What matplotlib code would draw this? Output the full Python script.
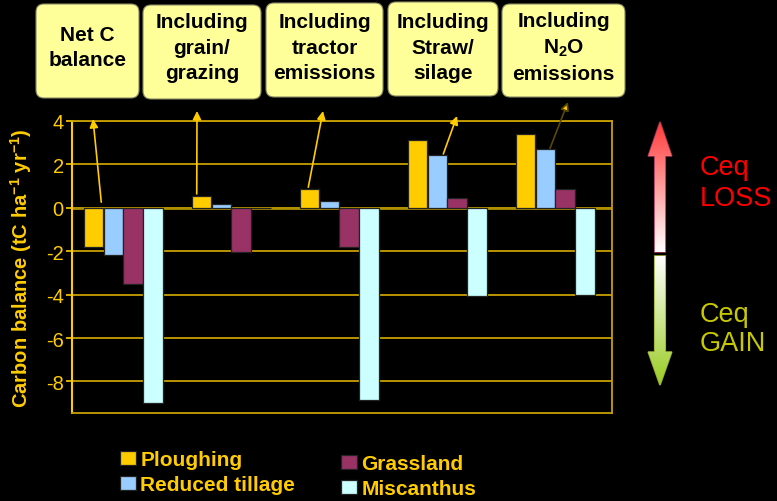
import matplotlib
matplotlib.use("Agg")
import matplotlib.pyplot as plt
import numpy as np
from matplotlib.patches import FancyBboxPatch, Polygon

plt.rcParams["font.family"] = "Liberation Sans"
plt.rcParams["mathtext.fontset"] = "custom"
plt.rcParams["mathtext.rm"] = "Liberation Sans:bold"
plt.rcParams["mathtext.it"] = "Liberation Sans:bold:italic"
plt.rcParams["mathtext.bf"] = "Liberation Sans:bold"

STAGES = [
    "Net C\nbalance",
    "Including\ngrain/\ngrazing",
    "Including\ntractor\nemissions",
    "Including\nStraw/\nsilage",
    "Including\nN$_2$O\nemissions",
]
LAND_USES = ["Ploughing", "Reduced tillage", "Grassland", "Miscanthus"]
PLOUGHING = [-1.8, 0.55, 0.85, 3.1, 3.4]
REDUCED_TILLAGE = [-2.2, 0.15, 0.3, 2.4, 2.7]
GRASSLAND = [-3.5, -2.05, -1.8, 0.45, 0.85]
MISCANTHUS = [-9.0, 0.0, -8.85, -4.05, -4.0]
Y_TICKS = [-8, -6, -4, -2, 0, 2, 4]
Y_TICK_LABELS = ["-8", "-6", "-4", "-2", "0", "2", "4"]

COLORS = ["#FFCC00", "#99CCFF", "#993366", "#CCFFFF"]
YELLOW = "#FFCC00"
GOLD = "#C8A000"

W, H = 777, 502
fig = plt.figure(figsize=(W / 100, H / 100), dpi=100, facecolor="black")

# main chart, placed in pixels
left, top, right, bottom = 72, 121.7, 612, 414
ax = fig.add_axes([left / W, 1 - bottom / H, (right - left) / W, (bottom - top) / H])
ax.set_facecolor("black")

x = np.arange(len(STAGES))
width = 0.18
step = 0.183
series = [PLOUGHING, REDUCED_TILLAGE, GRASSLAND, MISCANTHUS]
for k, (name, vals, color) in enumerate(zip(LAND_USES, series, COLORS)):
    ax.bar(x + (k - 1.5) * step - 0.025, vals, width, color=color,
           edgecolor="#222222", linewidth=0.9, label=name, zorder=3)

ax.set_xlim(-0.5, len(STAGES) - 0.5)
ax.set_ylim(-9.45, 4)
ax.set_yticks(Y_TICKS)
ax.set_yticklabels(Y_TICK_LABELS)
ax.set_xticks([])
ax.tick_params(axis="y", colors=YELLOW, labelsize=14.5, length=4, width=1.2, pad=2)
for t in ax.get_yticklabels():
    t.set_color(YELLOW)
ax.grid(axis="y", color=GOLD, linewidth=1.3, zorder=1)
ax.axhline(0, color="#B09000", linewidth=2, zorder=2)
for side in ["top", "right", "bottom"]:
    ax.spines[side].set_color(GOLD)
    ax.spines[side].set_linewidth(1.3)
ax.spines["left"].set_color(YELLOW)
ax.spines["left"].set_linewidth(1.5)
ax.set_ylabel("Carbon balance (tC ha$^{-1}$ yr$^{-1}$)", color=YELLOW,
              fontsize=14.5, fontweight="bold")
ax.yaxis.set_label_coords(-0.07, 0.5)

# overlay in pixel coordinates for the decorations
ov = fig.add_axes([0, 0, 1, 1], zorder=5)
ov.set_xlim(0, W)
ov.set_ylim(H, 0)
ov.axis("off")
ov.patch.set_alpha(0)

BOXES = [(36, 5, 139, 99), (143, 6, 261, 100), (266, 4, 383, 98),
         (388, 3, 498, 97), (502, 5, 625, 98)]
for (x0, y0, x1, y1), label in zip(BOXES, STAGES):
    ov.add_patch(FancyBboxPatch((x0 + 8, y0 + 8), x1 - x0 - 16, y1 - y0 - 16,
                                boxstyle="round,pad=8", facecolor="#FFFF99",
                                edgecolor="#888866", linewidth=0.8))
    ov.text((x0 + x1) / 2, 48, label, ha="center", va="center",
            fontsize=15, fontweight="bold", color="black", linespacing=1.42)

# arrows from bar groups to the boxes
TAILS = [(-0.229, 0.25), (0.655, 0.63), (1.688, 0.94), (2.938, 2.47), (3.926, 2.73)]
HEADS = [(93, 120), (197, 112), (323, 112), (457, 117), (568, 103)]
for i, (tail, head) in enumerate(zip(TAILS, HEADS)):
    edge = "#5A4800" if i == 4 else YELLOW
    ax.annotate("", xy=head, xycoords=ov.transData, xytext=tail, textcoords="data",
                annotation_clip=False,
                arrowprops=dict(arrowstyle="-|>,head_length=0.5,head_width=0.25",
                                edgecolor=edge, facecolor=YELLOW, linewidth=1.2,
                                shrinkA=0, shrinkB=0))


def gradient_arrow(tip, base, shaft_w, head_w, head_len, c_tip, c_base, edge):
    cx = tip[0]
    d = np.sign(base - tip[1])
    hb = tip[1] + d * head_len
    verts = [(cx, tip[1]), (cx + head_w / 2, hb), (cx + shaft_w / 2, hb),
             (cx + shaft_w / 2, base), (cx - shaft_w / 2, base),
             (cx - shaft_w / 2, hb), (cx - head_w / 2, hb)]
    poly = Polygon(verts, closed=True, facecolor="none", edgecolor=edge, linewidth=1.2)
    ov.add_patch(poly)
    c0 = np.array(matplotlib.colors.to_rgb(c_tip))
    c1 = np.array(matplotlib.colors.to_rgb(c_base))
    t = np.linspace(0, 1, 200)[:, None]
    grad = c0 * (1 - t) + c1 * t
    ys = sorted([tip[1], base])
    img = grad[:, None, :] if tip[1] < base else grad[::-1, None, :]
    im = ov.imshow(img, extent=[cx - head_w / 2, cx + head_w / 2, ys[1], ys[0]],
                   aspect="auto", zorder=1)
    im.set_clip_path(poly)
    ov.set_xlim(0, W)
    ov.set_ylim(H, 0)


gradient_arrow((660, 123), 253, 10.5, 23.5, 34, "#FF3B3B", "#FFFFFF", "#993355")
gradient_arrow((660, 386), 257, 10.5, 23.5, 33, "#99CC22", "#FFFFFF", "#99AA33")

ov.text(700, 168, "Ceq", color="#FF0000", fontsize=19.5, va="center", ha="left")
ov.text(700, 199, "LOSS", color="#FF0000", fontsize=19.5, va="center", ha="left")
ov.text(700, 315, "Ceq", color="#C8C800", fontsize=19.5, va="center", ha="left")
ov.text(700, 344, "GAIN", color="#C8C800", fontsize=19.5, va="center", ha="left")

# legend in two columns, second slightly lower
handles, labels = ax.get_legend_handles_labels()
leg_kw = dict(frameon=False, handlelength=0.76, handleheight=0.68,
              handletextpad=0.22, labelspacing=0.3, borderpad=0, borderaxespad=0,
              loc="upper left", prop={"weight": "bold", "size": 15})
leg1 = fig.legend(handles[:2], labels[:2], bbox_to_anchor=(120 / W, 1 - 451 / H), **leg_kw)
leg2 = fig.legend(handles[2:], labels[2:], bbox_to_anchor=(341 / W, 1 - 455 / H), **leg_kw)
for leg in (leg1, leg2):
    for t in leg.get_texts():
        t.set_color(YELLOW)

fig.savefig("out.png", dpi=100, facecolor="black")
